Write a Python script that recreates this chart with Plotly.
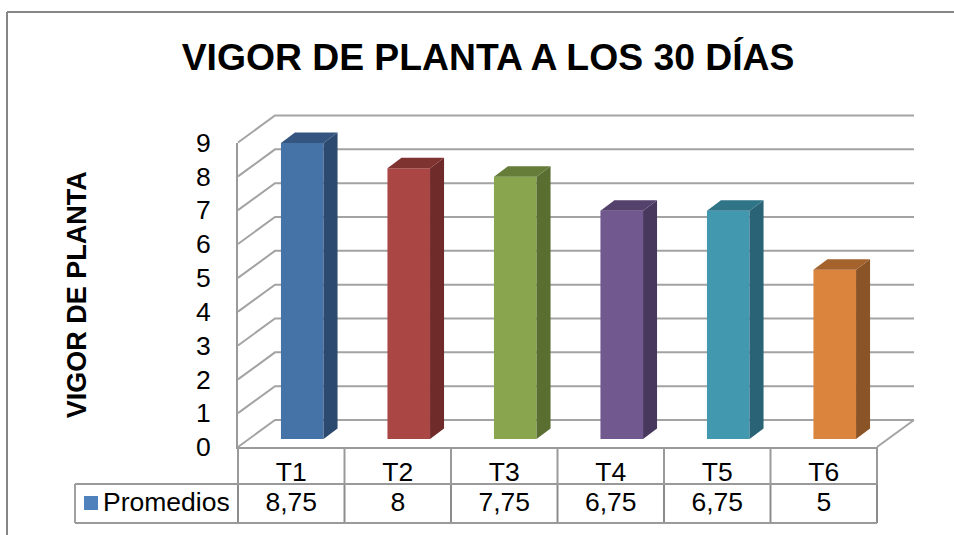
import plotly.graph_objects as go

categories = ["T1", "T2", "T3", "T4", "T5", "T6"]
promedios = [8.75, 8, 7.75, 6.75, 6.75, 5]
y_ticks = [0, 1, 2, 3, 4, 5, 6, 7, 8, 9]
series_name = "Promedios"
title_text = "VIGOR DE PLANTA A LOS 30 DÍAS"
y_title = "VIGOR DE PLANTA"

front = ["#4572A7", "#AA4643", "#89A54E", "#71588F", "#4198AF", "#DB843D"]
side = ["#2C4A70", "#6E2B29", "#5A6E32", "#49385E", "#2A6375", "#8B5427"]
top = ["#34557F", "#7F3331", "#667D3A", "#54416C", "#307488", "#A4622C"]

W, H = 954, 535
X0, X1, Y0, Y9 = 238, 877, 447, 142.5
ux = (X1 - X0) / 6
uy = (Y0 - Y9) / 9
# perspective offsets in axis units
WALL_DX, WALL_DY = 37 / ux, 27 / uy
BAR_DX, BAR_DY = 11 / ux, 8 / uy
DEPTH_DX, DEPTH_DY = 14 / ux, 10.5 / uy
BAR_W = 0.4
ROW1, ROW2 = -37 / uy, -76 / uy
LEG_L = -163 / ux
GRID = "#A3A3A3"
TABLE = "#8C8C8C"
LABEL = 26.5
# full-page ranges that keep the same scale as the visible axes
FULL_X = [-X0 / ux, (W - X0) / ux]
FULL_Y = [-(H - Y0) / uy, Y0 / uy]

fig = go.Figure()

# keeps the visible axes alive
fig.add_trace(go.Scatter(x=[0, 6], y=[0, 9], mode="none", hoverinfo="skip", showlegend=False))


def line(xs, ys, color=GRID, width=2):
    fig.add_trace(go.Scatter(x=xs, y=ys, mode="lines", line=dict(color=color, width=width),
                             xaxis="x2", yaxis="y2", hoverinfo="skip", showlegend=False))


# walls and floor
for t in y_ticks:
    line([0, WALL_DX, 6 + WALL_DX], [t, t + WALL_DY, t + WALL_DY])
line([6, 6 + WALL_DX], [0, WALL_DY])

# table
for i in range(7):
    line([i, i], [0, ROW1], "#9A9A9A")
    line([i, i], [ROW1, ROW2], TABLE)
line([LEG_L, LEG_L], [ROW1, ROW2], "#A0A0A0")
line([LEG_L, 6], [ROW1, ROW1], "#9A9A9A")
line([LEG_L, 6], [ROW2, ROW2], "#9A9A9A")

centers = [i + 0.5 for i in range(6)]
fig.add_trace(go.Scatter(x=centers, y=[-57 / uy] * 6, mode="text",
                         text=[str(v).replace(".", ",") for v in promedios],
                         textfont=dict(family="Liberation Sans", size=LABEL, color="#000000"),
                         xaxis="x2", yaxis="y2", hoverinfo="skip", showlegend=False))
fig.add_trace(go.Scatter(x=[-147 / ux], y=[-56 / uy], mode="markers",
                         marker=dict(symbol="square", size=14, color="#4F81BD"),
                         xaxis="x2", yaxis="y2", hoverinfo="skip", showlegend=False))
fig.add_trace(go.Scatter(x=[-135 / ux], y=[-57 / uy], mode="text", text=[series_name],
                         textposition="middle right",
                         textfont=dict(family="Liberation Sans", size=LABEL, color="#000000"),
                         xaxis="x2", yaxis="y2", hoverinfo="skip", showlegend=False))

# bars on a separate pair of axes so they sit above the grid
fig.add_trace(go.Bar(x=[c + BAR_DX for c in centers], y=promedios, base=[BAR_DY] * 6, width=BAR_W,
                     marker=dict(color=front, line=dict(width=0)), xaxis="x3", yaxis="y3",
                     showlegend=False))
for c, v, s, t in zip(centers, promedios, side, top):
    l = c + BAR_DX - BAR_W / 2
    r = c + BAR_DX + BAR_W / 2
    b = BAR_DY
    h = v + BAR_DY
    fig.add_trace(go.Scatter(x=[r, r + DEPTH_DX, r + DEPTH_DX, r, r],
                             y=[b, b + DEPTH_DY, h + DEPTH_DY, h, b],
                             mode="lines", fill="toself", fillcolor=s, line=dict(width=0, color=s),
                             xaxis="x3", yaxis="y3", hoverinfo="skip", showlegend=False))
    fig.add_trace(go.Scatter(x=[l, l + DEPTH_DX, r + DEPTH_DX, r, l],
                             y=[h, h + DEPTH_DY, h + DEPTH_DY, h, h],
                             mode="lines", fill="toself", fillcolor=t, line=dict(width=0, color=t),
                             xaxis="x3", yaxis="y3", hoverinfo="skip", showlegend=False))

dom_x = [X0 / W, X1 / W]
dom_y = [1 - Y0 / H, 1 - Y9 / H]
fig.update_layout(
    width=W, height=H, autosize=False,
    margin=dict(l=0, r=0, t=0, b=0, autoexpand=False),
    paper_bgcolor="#FFFFFF", plot_bgcolor="rgba(0,0,0,0)",
    font=dict(family="Liberation Sans", color="#000000"),
    title=dict(text=f"<b>{title_text}</b>", x=488 / W, xanchor="center", y=1 - 57 / H, yanchor="middle",
               font=dict(size=37.3, family="Liberation Sans", color="#000000")),
    xaxis=dict(domain=dom_x, range=[0, 6], tickvals=centers, ticktext=categories, ticks="",
               tickfont=dict(size=LABEL), showgrid=False, zeroline=False,
               showline=True, linecolor="#9A9A9A", linewidth=2, automargin=False),
    yaxis=dict(domain=dom_y, range=[0, 9], tickvals=y_ticks, ticks="outside", ticklen=20,
               tickcolor="rgba(0,0,0,0)", tickfont=dict(size=LABEL), showgrid=False, zeroline=False,
               showline=True, linecolor="#9A9A9A", linewidth=2, automargin=False,
               title=dict(text=f"<b>{y_title}</b>", font=dict(size=27, family="Liberation Sans"), standoff=102)),
    xaxis2=dict(domain=[0, 1], range=FULL_X, visible=False, anchor="y2", automargin=False),
    yaxis2=dict(domain=[0, 1], range=FULL_Y, visible=False, anchor="x2", automargin=False),
    xaxis3=dict(domain=[0, 1], range=FULL_X, visible=False, anchor="y3", automargin=False),
    yaxis3=dict(domain=[0, 1], range=FULL_Y, visible=False, anchor="x3", automargin=False),
    shapes=[
        dict(type="line", xref="paper", yref="paper", x0=7 / W, x1=1, y0=1 - 12 / H, y1=1 - 12 / H,
             line=dict(color="#868686", width=2)),
        dict(type="line", xref="paper", yref="paper", x0=7 / W, x1=7 / W, y0=1 - 12 / H, y1=0,
             line=dict(color="#868686", width=2)),
    ],
)
fig.write_html("out.html", post_script="document.body.style.margin='0';", config=dict(displayModeBar=False))
